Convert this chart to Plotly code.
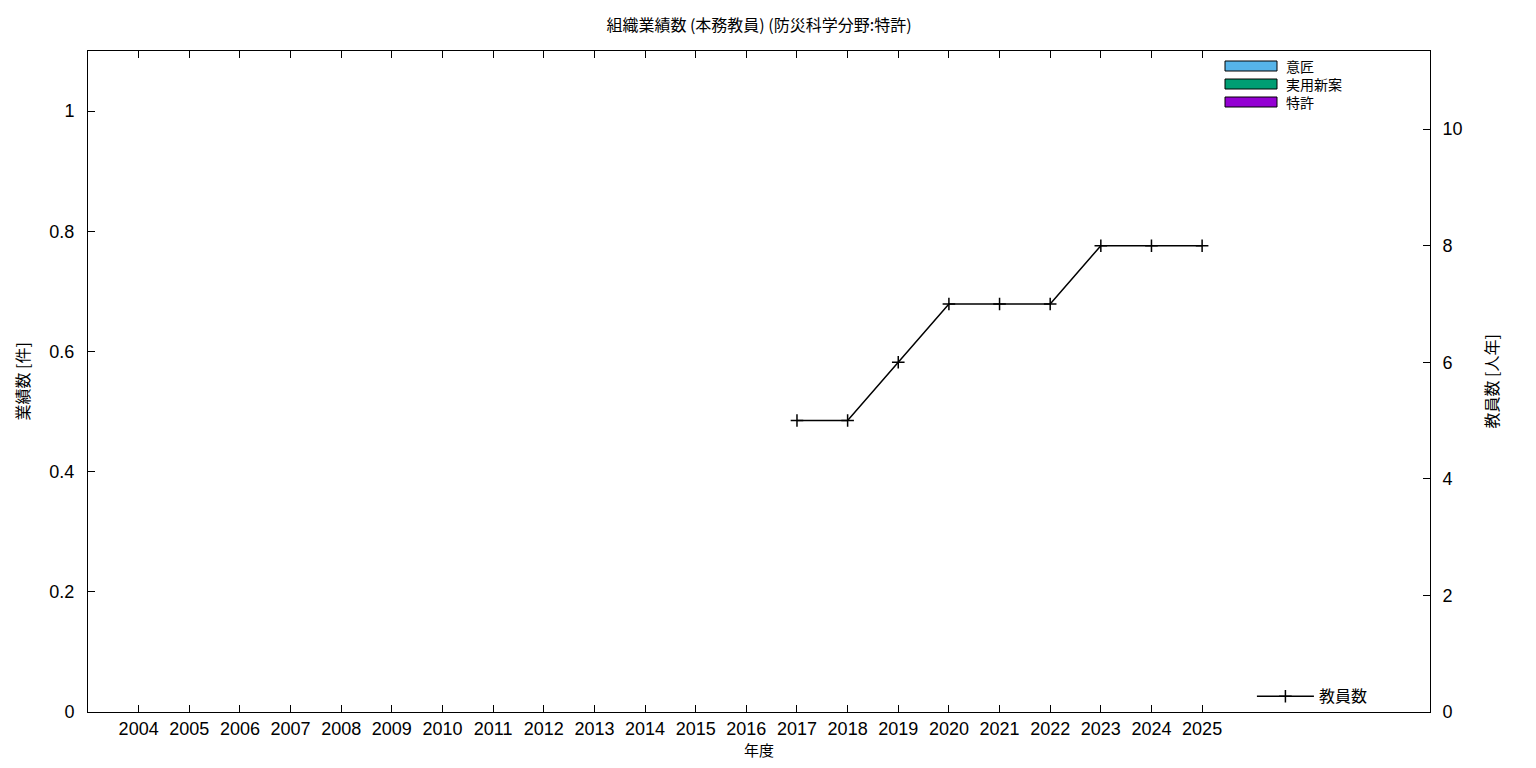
import plotly.graph_objects as go

years = list(range(2004, 2026))
design = [0] * len(years)          # 意匠
utility = [0] * len(years)         # 実用新案
patent = [0] * len(years)          # 特許
staff_years = [2017, 2018, 2019, 2020, 2021, 2022, 2023, 2024, 2025]
staff = [5, 5, 6, 7, 7, 7, 8, 8, 8]

bar_series = [("意匠", design, "#56b4e9"),
              ("実用新案", utility, "#009e73"),
              ("特許", patent, "#9400d3")]

FONT = "Liberation Sans, Noto Sans CJK JP, sans-serif"
JFONT = "Noto Sans CJK JP, sans-serif"

# figure geometry (page has 8px body margin)
W, H = 1520, 752
ML, MT, MR, MB = 80, 43, 98, 48
PW, PH = W - ML - MR, H - MT - MB
PX0, PY1 = 88, 712   # plot-area left / bottom in page pixels

fig = go.Figure()
for name, vals, col in bar_series:
    fig.add_trace(go.Bar(x=years, y=vals, name=name, marker_color=col,
                         marker_line_color="black", marker_line_width=1,
                         showlegend=False))

fig.add_trace(go.Scatter(x=staff_years, y=staff, name="教員数", yaxis="y2",
                         mode="lines+markers",
                         line=dict(color="black", width=1.5),
                         marker=dict(symbol="cross-thin", size=9,
                                     line=dict(color="black", width=1.5)),
                         legend="legend"))

# custom legend for bar series (wide key boxes as in the reference)
shapes, annots = [], []
for i, (name, vals, col) in enumerate(bar_series):
    top = 10 + 18 * i   # px below plot top
    shapes.append(dict(type="rect", xref="paper", yref="paper",
                       x0=(1225 - PX0) / PW, x1=(1277 - PX0) / PW,
                       y0=1 - top / PH, y1=1 - (top + 10) / PH,
                       fillcolor=col, line=dict(color="black", width=1)))
    annots.append(dict(xref="paper", yref="paper", x=(1285 - PX0) / PW,
                       y=1 - (top + 5) / PH, xanchor="left", yanchor="middle",
                       text=name, showarrow=False, borderpad=0,
                       font=dict(family=JFONT, size=14, color="black")))

# axis titles as annotations (placed outside the margins like the reference)
annots += [
    dict(xref="paper", yref="paper", x=0.5, y=-(749.5 - PY1) / PH,
         xanchor="center", yanchor="middle", text="年度", showarrow=False,
         borderpad=0, font=dict(family=JFONT, size=15, color="black")),
    dict(xref="paper", yref="paper", x=(21 - PX0) / PW, y=0.5, textangle=-90,
         xanchor="center", yanchor="middle", text="業績数 [件]", showarrow=False,
         borderpad=0, font=dict(family=JFONT, size=16, color="black")),
    dict(xref="paper", yref="paper", x=(1490 - PX0) / PW, y=0.5, textangle=-90,
         xanchor="center", yanchor="middle", text="教員数 [人年]", showarrow=False,
         borderpad=0, font=dict(family=JFONT, size=16, color="black")),
]

fig.update_layout(
    width=W, height=H,
    margin=dict(l=ML, r=MR, t=MT, b=MB, autoexpand=False),
    plot_bgcolor="white", paper_bgcolor="white",
    barmode="stack",
    font=dict(family=FONT, size=18, color="black"),
    title=dict(text="組織業績数 (本務教員) (防災科学分野:特許)", xref="paper", x=0.5,
               xanchor="center", y=1 - 17 / H, yanchor="middle",
               font=dict(family=JFONT, size=16, color="black")),
    xaxis=dict(range=[2003, 2029.5], tickvals=years, ticktext=[str(y) for y in years],
               ticks="inside", ticklen=7, tickcolor="black", showline=True,
               linecolor="black", linewidth=1, mirror="ticks", showgrid=False,
               zeroline=False, ticklabelstandoff=0, automargin=False),
    yaxis=dict(range=[0, 1.1], tickvals=[0, 0.2, 0.4, 0.6, 0.8, 1],
               ticktext=["0", "0.2", "0.4", "0.6", "0.8", "1"],
               ticks="inside", ticklen=7, tickcolor="black", showline=True,
               linecolor="black", linewidth=1, mirror=True, showgrid=False,
               zeroline=False, ticklabelstandoff=9, automargin=False),
    yaxis2=dict(range=[0, 11.34], tickvals=[0, 2, 4, 6, 8, 10], overlaying="y", side="right",
                ticks="inside", ticklen=7, tickcolor="black", showline=True,
                linecolor="black", linewidth=1, showgrid=False, zeroline=False,
                ticklabelstandoff=8, automargin=False),
    legend=dict(x=0.8673, y=-0.002, xanchor="left", yanchor="bottom",
                font=dict(family=JFONT, size=16), bgcolor="rgba(0,0,0,0)",
                itemwidth=57),
    shapes=shapes, annotations=annots,
)

fig.write_html("out.html")
